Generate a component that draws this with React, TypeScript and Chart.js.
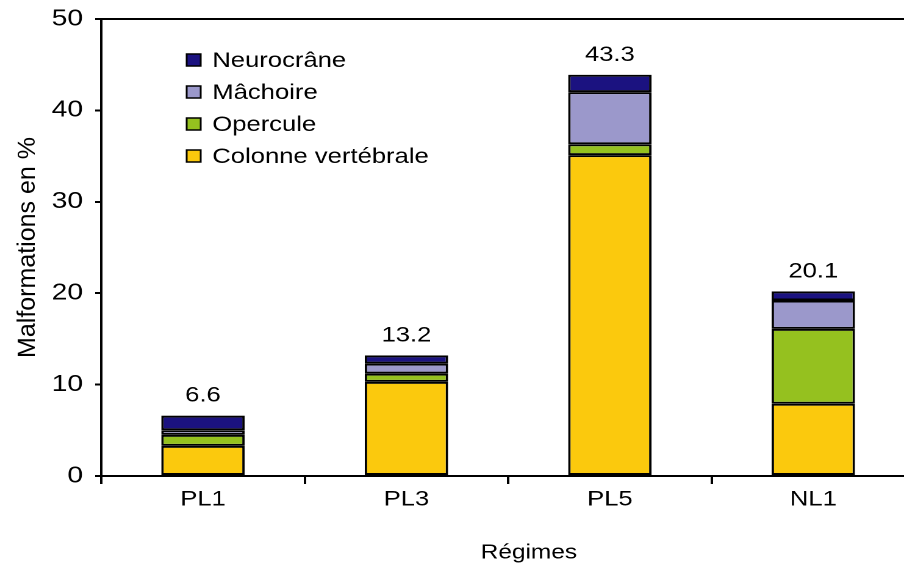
import { useEffect, useRef } from 'react';
import { Chart, registerables } from 'chart.js';

Chart.register(...registerables);

const categories = ['PL1', 'PL3', 'PL5', 'NL1'];
const colonne = [3.3, 10.3, 35.1, 7.9];
const opercule = [1.2, 0.9, 1.2, 8.2];
const machoire = [0.5, 1.1, 5.7, 3.1];
const neurocrane = [1.6, 0.9, 1.9, 1.0];
const totalLabels = ['6.6', '13.2', '43.3', '20.1'];
const seriesNames = ['Colonne vertébrale', 'Opercule', 'Mâchoire', 'Neurocrâne'];
const seriesColors = ['#fbc90d', '#95c11f', '#9b98cb', '#1b1280'];
const xTitle = 'Régimes';
const yTitle = 'Malformations en %';

const STRETCH = 1.22;
const FONT = '"Liberation Sans", Arial, Helvetica, sans-serif';

const overlayPlugin = {
  id: 'overlay',
  afterDraw(chart: any) {
    const { ctx, chartArea } = chart;
    const yScale = chart.scales.y;
    ctx.save();
    // top frame line
    ctx.strokeStyle = '#000';
    ctx.lineWidth = 2;
    ctx.beginPath();
    ctx.moveTo(chartArea.left, chartArea.top);
    ctx.lineTo(chartArea.right, chartArea.top);
    ctx.stroke();

    // totals above bars
    ctx.fillStyle = '#000';
    ctx.font = `21px ${FONT}`;
    ctx.textAlign = 'center';
    ctx.textBaseline = 'alphabetic';
    const nDs = chart.data.datasets.length;
    const topMeta = chart.getDatasetMeta(nDs - 1);
    categories.forEach((_, i) => {
      let sum = 0;
      chart.data.datasets.forEach((ds: any) => (sum += ds.data[i]));
      const x = topMeta.data[i].x;
      const y = yScale.getPixelForValue(sum) - 14;
      ctx.fillText(totalLabels[i], x, y);
    });

    // legend (top series first)
    ctx.textAlign = 'left';
    ctx.textBaseline = 'middle';
    for (let k = 0; k < nDs; k++) {
      const j = nDs - 1 - k;
      const rowY = chartArea.top + 41 + k * 32;
      const sx = chartArea.left + 70;
      ctx.fillStyle = seriesColors[j];
      ctx.fillRect(sx, rowY - 6, 11.5, 12);
      ctx.strokeStyle = '#000';
      ctx.lineWidth = 1.5;
      ctx.strokeRect(sx, rowY - 6, 11.5, 12);
      ctx.fillStyle = '#000';
      ctx.fillText(seriesNames[j], chartArea.left + 91, rowY + 1);
    }

    // axis titles
    ctx.font = `20px ${FONT}`;
    ctx.textAlign = 'center';
    ctx.textBaseline = 'middle';
    ctx.fillText(xTitle, (chartArea.left + chartArea.right) / 2 + 17, 553);
    ctx.font = `25px ${FONT}`;
    ctx.translate(23, (chartArea.top + chartArea.bottom) / 2);
    ctx.scale(1 / STRETCH, 1);
    ctx.rotate(-Math.PI / 2);
    ctx.fillText(yTitle, 0, 0);
    ctx.restore();
  },
};

export default function App() {
  const canvasRef = useRef<HTMLCanvasElement | null>(null);

  useEffect(() => {
    if (!canvasRef.current) return;
    Chart.defaults.font.family = FONT;
    Chart.defaults.color = '#000';
    const datasets = [colonne, opercule, machoire, neurocrane].map((vals, i) => ({
      label: seriesNames[i],
      data: vals,
      backgroundColor: seriesColors[i],
      borderColor: '#000',
      borderWidth: 2,
      borderSkipped: false as const,
      barPercentage: 0.41,
      categoryPercentage: 1,
    }));
    const chart = new Chart(canvasRef.current, {
      type: 'bar',
      data: { labels: categories, datasets },
      options: {
        animation: false,
        responsive: true,
        maintainAspectRatio: false,
        devicePixelRatio: 2,
        layout: { padding: { top: 19, right: 2, left: 0, bottom: 0 } },
        plugins: { legend: { display: false }, tooltip: { enabled: false } },
        scales: {
          x: {
            stacked: true,
            afterFit: (scale: any) => {
              scale.height = 90;
            },
            grid: {
              offset: true,
              drawOnChartArea: false,
              drawTicks: true,
              tickLength: 8,
              color: '#000',
              lineWidth: 2,
            },
            border: { display: true, color: '#000', width: 2 },
            ticks: { font: { size: 21 }, color: '#000', padding: 3 },
          },
          y: {
            stacked: true,
            min: 0,
            max: 50,
            afterFit: (scale: any) => {
              scale.width = 83;
              scale.paddingTop = 0;
              scale.paddingBottom = 0;
            },
            grid: {
              drawOnChartArea: false,
              drawTicks: true,
              tickLength: 5,
              color: '#000',
              lineWidth: 2,
            },
            border: { display: true, color: '#000', width: 2 },
            ticks: { stepSize: 10, font: { size: 23 }, color: '#000', padding: 10 },
          },
        },
      },
      plugins: [overlayPlugin],
    });
    return () => chart.destroy();
  }, []);

  return (
    <div
      style={{
        position: 'fixed',
        left: 0,
        top: 0,
        width: 904,
        height: 566,
        overflow: 'hidden',
        background: '#fff',
      }}
    >
      <div
        style={{
          position: 'relative',
          width: 752,
          height: 566,
          transform: `scaleX(${STRETCH})`,
          transformOrigin: '0 0',
        }}
      >
        <canvas ref={canvasRef} />
      </div>
    </div>
  );
}
